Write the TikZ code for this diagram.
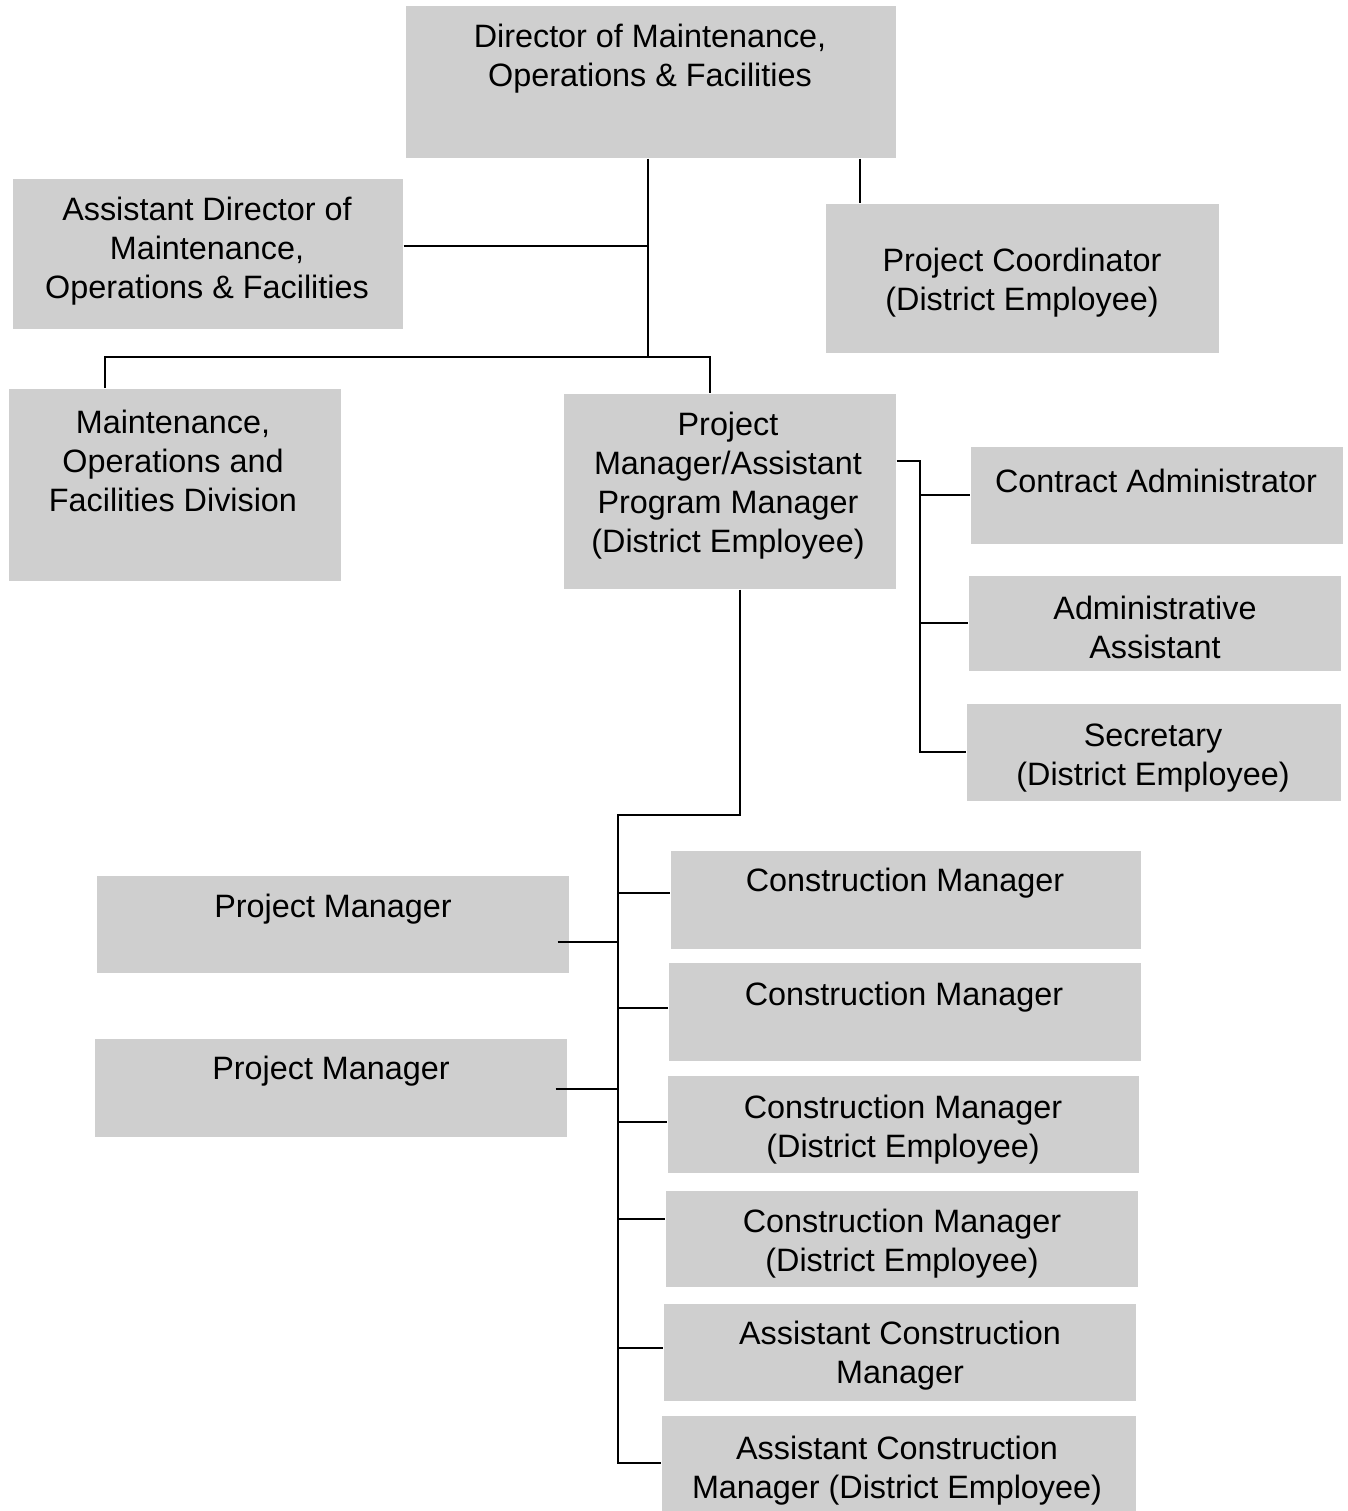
\documentclass[tikz,border=0pt]{standalone}
\usepackage{fontspec}
\setmainfont{Liberation Sans}
\definecolor{boxgray}{HTML}{CFCFCF}
\begin{document}
\begin{tikzpicture}[x=0.01cm,y=-0.01cm,
  box/.style={fill=boxgray,draw=none,inner sep=0pt,anchor=north west},
  txt/.style={align=center,inner sep=0pt,font=\fontsize{9.2}{11.1}\selectfont,yshift=-0.035cm},
  conn/.style={draw=black,line width=0.7pt}]
\useasboundingbox[fill=white] (0,0) rectangle (1347,1511);
% boxes
\node[box,minimum width=4.90cm,minimum height=1.52cm] (dir) at (405,5) {};
\node[box,minimum width=3.90cm,minimum height=1.50cm] (adir) at (12,178) {};
\node[box,minimum width=3.93cm,minimum height=1.49cm] (pc) at (825,203) {};
\node[box,minimum width=3.32cm,minimum height=1.92cm] (mof) at (8,388) {};
\node[box,minimum width=3.32cm,minimum height=1.95cm] (pm) at (563,393) {};
\node[box,minimum width=3.72cm,minimum height=0.97cm] (ca) at (970,446) {};
\node[box,minimum width=3.72cm,minimum height=0.95cm] (aa) at (968,575) {};
\node[box,minimum width=3.74cm,minimum height=0.97cm] (sec) at (966,703) {};
\node[box,minimum width=4.72cm,minimum height=0.97cm] (pm1) at (96,875) {};
\node[box,minimum width=4.72cm,minimum height=0.98cm] (pm2) at (94,1038) {};
\node[box,minimum width=4.70cm,minimum height=0.98cm] (cm1) at (670,850) {};
\node[box,minimum width=4.72cm,minimum height=0.98cm] (cm2) at (668,962) {};
\node[box,minimum width=4.71cm,minimum height=0.97cm] (cm3) at (667,1075) {};
\node[box,minimum width=4.72cm,minimum height=0.96cm] (cm4) at (665,1190) {};
\node[box,minimum width=4.72cm,minimum height=0.97cm] (acm) at (663,1303) {};
\node[box,minimum width=4.74cm,minimum height=0.96cm] (acm2) at (661,1415) {};
% texts
\node[txt] (tdir) at (650,55) {Director of Maintenance,\\Operations \& Facilities};
\node[txt] (tadir) at (207,248) {Assistant Director of\\Maintenance,\\Operations \& Facilities};
\node[txt] (tpc) at (1022,279) {Project Coordinator\\(District Employee)};
\node[txt] (tmof) at (173,457) {Maintenance,\\Operations and\\Facilities Division};
\node[txt] (tpm) at (728,482) {Project\\Manager/Assistant\\Program Manager\\(District Employee)};
\node[txt] (tca) at (1156,477) {Contract Administrator};
\node[txt] (taa) at (1155,624) {Administrative\\Assistant};
\node[txt] (tsec) at (1153,755) {Secretary\\(District Employee)};
\node[txt] (tpm1) at (333,906) {Project Manager};
\node[txt] (tpm2) at (331,1068) {Project Manager};
\node[txt] (tcm1) at (905,880) {Construction Manager};
\node[txt] (tcm2) at (904,994) {Construction Manager};
\node[txt] (tcm3) at (903,1126) {Construction Manager\\(District Employee)};
\node[txt] (tcm4) at (902,1240) {Construction Manager\\(District Employee)};
\node[txt] (tacm) at (900,1352) {Assistant Construction\\Manager};
\node[txt] (tacm2) at (897,1467) {Assistant Construction\\Manager (District Employee)};
% connectors
\coordinate (j1) at (648,246);
\coordinate (j2) at (648,357);
\coordinate (j3) at (105,357);
\coordinate (j4) at (710,357);
\coordinate (pcx) at (860,180);
\draw[conn] (dir.south -| j2) -- (j2);
\draw[conn] (adir.east |- j1) -- (j1);
\draw[conn] (dir.south -| pcx) -- (pc.north -| pcx);
\draw[conn] (mof.north -| j3) -- (j3) -- (j4) -- (pm.north -| j4);
\coordinate (k0) at (920,461);
\draw[conn] (pm.east |- k0) -- (k0) -- (k0 |- sec.west) -- (sec.west);
\draw[conn] (k0 |- ca.west) -- (ca.west);
\draw[conn] (k0 |- aa.west) -- (aa.west);
\coordinate (m0) at (740,815);
\coordinate (m1) at (618,815);
\coordinate (b1) at (618,893);
\coordinate (b2) at (618,1008);
\coordinate (b3) at (618,1122);
\coordinate (b4) at (618,1219);
\coordinate (b5) at (618,1348);
\coordinate (b6) at (618,1463);
\coordinate (p1) at (618,942);
\coordinate (p2) at (618,1089);
\draw[conn] (pm.south -| m0) -- (m0) -- (m1) -- (b6) -- (b6 -| acm2.west);
\draw[conn] (b1) -- (b1 -| cm1.west);
\draw[conn] (b2) -- (b2 -| cm2.west);
\draw[conn] (b3) -- (b3 -| cm3.west);
\draw[conn] (b4) -- (b4 -| cm4.west);
\draw[conn] (b5) -- (b5 -| acm.west);
\draw[conn] (p1 -| pm1.east) ++(-12,0) -- (p1);
\draw[conn] (p2 -| pm2.east) ++(-12,0) -- (p2);
\end{tikzpicture}
\end{document}
